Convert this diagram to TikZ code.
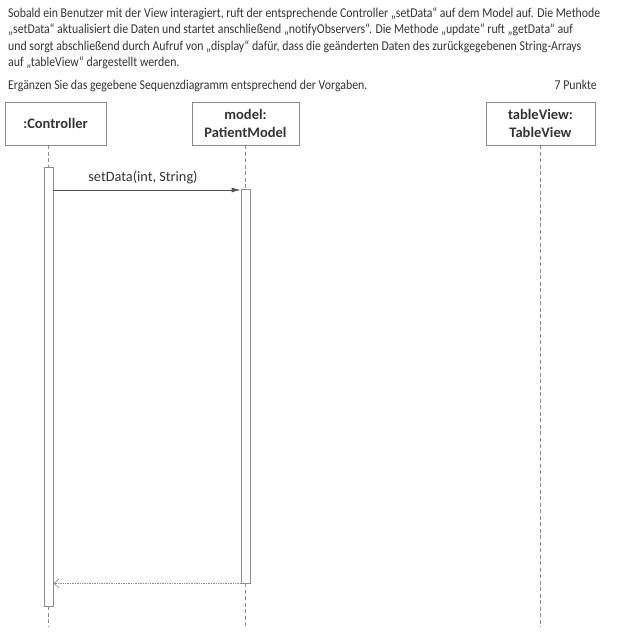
\documentclass[tikz,border=0pt]{standalone}
\usepackage{fontspec}
\setmainfont{Carlito}
\newfontfamily\bodyfont[FakeStretch=0.875]{Carlito}
\usetikzlibrary{arrows.meta}
\definecolor{txt}{HTML}{333333}
\definecolor{ln}{HTML}{8C8C8C}
\begin{document}
\begin{tikzpicture}[x=1pt,y=-1pt,
  bodyline/.style={anchor=base west, inner sep=0, text=txt, font=\bodyfont\fontsize{13.5}{16}\selectfont},
  objbox/.style={draw=ln, line width=0.8pt, text=txt, font=\bfseries\fontsize{14.5}{18}\selectfont, align=center, inner sep=0, minimum height=43},
  life/.style={draw=ln, dash pattern=on 4pt off 2.5pt, line width=0.7pt},
  actbar/.style={draw=ln, fill=white, line width=0.8pt, inner sep=0, minimum width=9},
  msg/.style={draw=txt!85, line width=0.8pt, -{Latex[length=9pt,width=5pt]}},
  ret/.style={draw=ln, line width=0.7pt, densely dotted, -{Straight Barb[length=5pt,width=9pt]}},
  lbl/.style={text=txt, font=\fontsize{14.3}{16}\selectfont, inner sep=0}]

\useasboundingbox (0,0) rectangle (617,632);

% task text
\node[bodyline] (l1) at (8,17) {Sobald ein Benutzer mit der View interagiert, ruft der entsprechende Controller „setData“ auf dem Model auf. Die Methode};
\node[bodyline] (l2) at (8,33.5) {„setData“ aktualisiert die Daten und startet anschließend „notifyObservers“. Die Methode „update“ ruft „getData“ auf};
\node[bodyline] (l3) at (8,50) {und sorgt abschließend durch Aufruf von „display“ dafür, dass die geänderten Daten des zurückgegebenen String-Arrays};
\node[bodyline] (l4) at (8,66.5) {auf „tableView“ dargestellt werden.};
\node[bodyline] (l5) at (8,89) {Ergänzen Sie das gegebene Sequenzdiagramm entsprechend der Vorgaben.};
\node[bodyline, anchor=base east] (pts) at (597,89) {7 Punkte};

% objects
\node[objbox, minimum width=101] (ctrl) at (55.5,123.5) {:Controller};
\node[objbox, minimum width=107] (model) at (245.5,123.5) {model:\\PatientModel};
\node[objbox, minimum width=109] (tv) at (540.5,123.5) {tableView:\\TableView};

% activation bars
\node[actbar, minimum height=439] (cbar) at (48.5,386.5) {};
\node[actbar, minimum height=394] (mbar) at (245.5,386) {};

\coordinate (bot) at (0,627);
\coordinate (m1) at (0,190);

% lifelines
\draw[life] (cbar.north |- ctrl.south) -- (cbar.north);
\draw[life] (cbar.south) -- (cbar.south |- bot);
\draw[life] (mbar.north |- model.south) -- (mbar.north);
\draw[life] (mbar.south) -- (mbar.south |- bot);
\draw[life] (tv.south) -- (tv.south |- bot);

% messages
\draw[msg] (cbar.east |- m1) -- node[lbl, above=6pt, xshift=-4pt] (setl) {setData(int, String)} (mbar.west |- m1);
\draw[ret] (mbar.south west) -- (cbar.east |- mbar.south);
\end{tikzpicture}
\end{document}
